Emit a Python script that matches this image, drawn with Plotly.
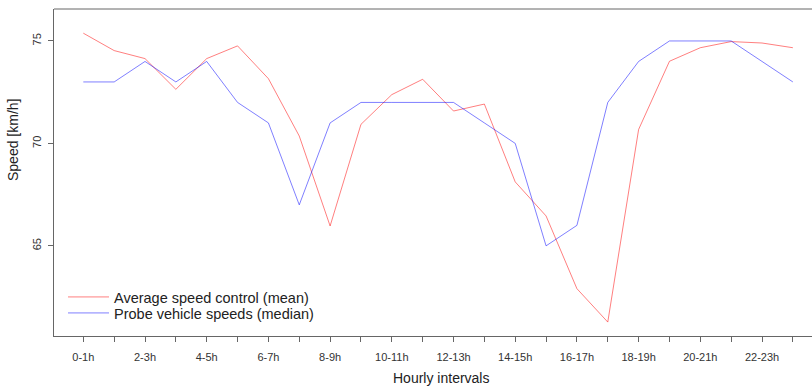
import plotly.graph_objects as go

hours = list(range(24))
tick_labels = [f"{h}-{h+1}h" if h % 2 == 0 else "" for h in hours]

mean_speed = [75.38, 74.53, 74.14, 72.64, 74.14, 74.76, 73.16, 70.36, 65.97, 70.93,
              72.38, 73.13, 71.58, 71.92, 68.12, 66.46, 62.91, 61.28, 70.68, 74.01,
              74.67, 74.97, 74.90, 74.67]
median_speed = [73, 73, 74, 73, 74, 72, 71, 67, 71, 72,
                72, 72, 72, 71, 70, 65, 66, 72, 74, 75,
                75, 75, 74, 73]

FONT = "Liberation Sans, Arial, Helvetica, sans-serif"
AX = "#666666"

fig = go.Figure()
fig.add_trace(go.Scatter(x=hours, y=mean_speed, mode="lines",
                         name="Average speed control (mean)", legend="legend",
                         line=dict(color="rgba(255,0,0,0.5)", width=1)))
fig.add_trace(go.Scatter(x=hours, y=median_speed, mode="lines",
                         name="Probe vehicle speeds (median)", legend="legend2",
                         line=dict(color="rgba(0,0,255,0.5)", width=1)))

leg_common = dict(xanchor="left", yanchor="top", bgcolor="rgba(0,0,0,0)", borderwidth=0,
                  font=dict(family=FONT, size=14.5, color="#222222"), itemwidth=41)

fig.update_layout(
    width=812, height=386,
    margin=dict(l=54, r=0, t=9, b=50),
    paper_bgcolor="white", plot_bgcolor="white",
    font=dict(family=FONT, size=11, color="#222222"),
    showlegend=True,
    legend=dict(x=9 / 758, y=(336 - 281) / 327, **leg_common),
    legend2=dict(x=9 / 758, y=(336 - 297) / 327, **leg_common),
    xaxis=dict(range=[-0.95, 23.62], tickmode="array", tickvals=hours, ticktext=tick_labels,
               showgrid=False, zeroline=False, showline=True, linecolor=AX, linewidth=1,
               ticks="outside", ticklen=5, tickcolor=AX, tickwidth=1,
               tickfont=dict(size=11, color="#333333"), ticklabelstandoff=6),
    yaxis=dict(range=[60.6, 76.56], tickmode="array", tickvals=[65, 70, 75],
               showgrid=False, zeroline=False, showline=True, linecolor=AX, linewidth=1,
               ticks="outside", ticklen=5, tickcolor=AX, tickwidth=1, tickangle=-90,
               tickfont=dict(size=11, color="#333333"), ticklabelstandoff=3),
    shapes=[dict(type="line", xref="paper", yref="paper", x0=0, x1=1, y0=1, y1=1,
                 line=dict(color=AX, width=1))],
    annotations=[
        dict(text="Hourly intervals", xref="paper", yref="paper",
             x=(441 - 54) / 758, y=-(378 - 336) / 327, xanchor="center", yanchor="middle",
             showarrow=False, font=dict(family=FONT, size=14, color="#222222")),
        dict(text="Speed [km/h]", xref="paper", yref="paper",
             x=-(54 - 13) / 758, y=(336 - 140) / 327, xanchor="center", yanchor="middle",
             textangle=-90, showarrow=False, font=dict(family=FONT, size=14, color="#222222")),
    ],
)

fig.write_html("out.html", config={"displayModeBar": False},
               post_script="document.body.style.margin='0';document.body.style.overflow='hidden';")
